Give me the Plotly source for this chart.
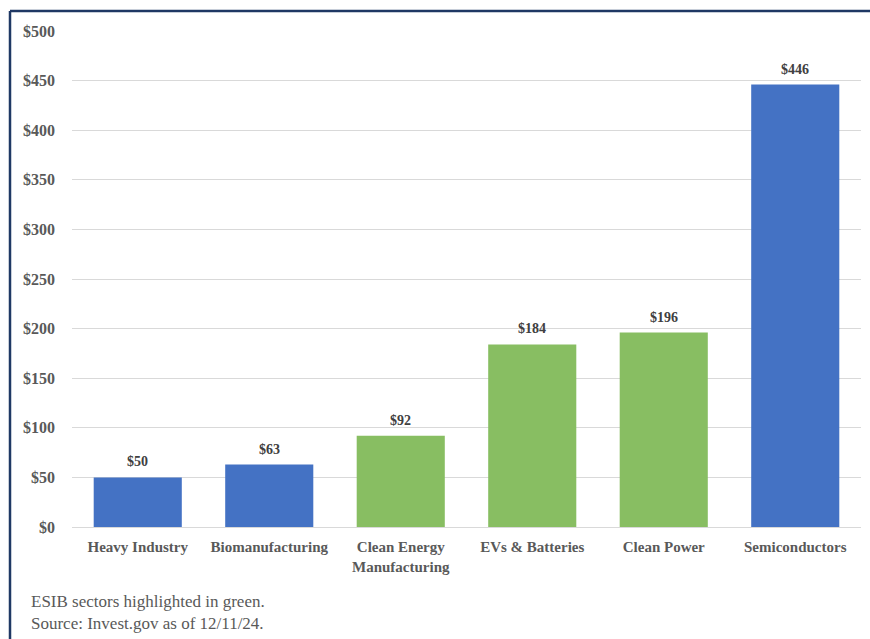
import plotly.graph_objects as go

# Sector investment totals ($ billions)
sectors = ["Heavy Industry", "Biomanufacturing", "Clean Energy<br>Manufacturing",
           "EVs & Batteries", "Clean Power", "Semiconductors"]
values = [50, 63, 92, 184, 196, 446]
is_esib = [False, False, True, True, True, False]
notes = ["ESIB sectors highlighted in green.", "Source: Invest.gov as of 12/11/24."]

BLUE = "#4472C4"
GREEN = "#88BE62"
NAVY = "#1F3864"
GREY = "#595959"
SERIF = "Liberation Serif"

W, H = 870, 639
ML, MR, MT, MB = 72, 9, 31, 112
pw, ph = W - ML - MR, H - MT - MB


def px_x(x):
    return (x - ML) / pw


def px_y(y):
    return (H - MB - y) / ph


fig = go.Figure(go.Bar(
    x=sectors,
    y=values,
    marker=dict(color=[GREEN if g else BLUE for g in is_esib], line=dict(width=0)),
    width=0.67,
    hoverinfo="x+y",
))

# value labels above each bar
annotations = [
    dict(x=s, y=v, xref="x", yref="y", text=f"${v}", showarrow=False,
         yanchor="bottom", yshift=6,
         font=dict(family=SERIF, size=14, color="#404040", weight="bold"))
    for s, v in zip(sectors, values)
]

# footnotes
annotations.append(dict(
    xref="paper", yref="paper", x=px_x(29), y=px_y(612),
    xanchor="left", yanchor="middle", align="left", showarrow=False,
    text="<br>".join(notes), font=dict(family=SERIF, size=17, color=GREY)))

fig.update_layout(
    width=W, height=H,
    margin=dict(l=ML, r=MR, t=MT, b=MB),
    plot_bgcolor="white", paper_bgcolor="white",
    showlegend=False,
    font=dict(family=SERIF, color=GREY),
    xaxis=dict(
        showgrid=False, showline=False, ticks="", ticklabelstandoff=9,
        tickfont=dict(family=SERIF, size=15, color=GREY, weight="bold"),
        tickangle=0,
    ),
    yaxis=dict(
        range=[0, 500], dtick=50, tickprefix="$",
        showgrid=True, gridcolor="#D9D9D9", gridwidth=1,
        zeroline=True, zerolinecolor="#D9D9D9", zerolinewidth=1,
        showline=False, ticks="", ticklabelstandoff=16,
        tickfont=dict(family=SERIF, size=16, color=GREY, weight="bold"),
    ),
    shapes=[
        dict(type="line", xref="paper", yref="paper",
             x0=px_x(10), x1=px_x(W + 5), y0=px_y(11), y1=px_y(11),
             line=dict(color=NAVY, width=2.5)),
        dict(type="line", xref="paper", yref="paper",
             x0=px_x(10), x1=px_x(10), y0=px_y(11), y1=px_y(H + 5),
             line=dict(color=NAVY, width=2.5)),
    ],
    annotations=annotations,
)

fig.write_html("out.html")
